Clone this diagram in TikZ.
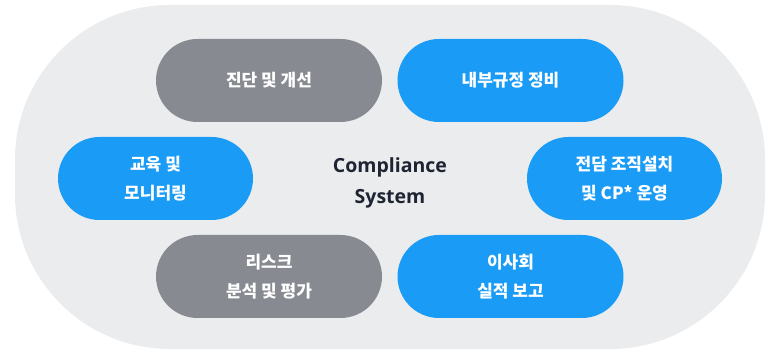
\documentclass[tikz,border=0pt]{standalone}
\usepackage{fontspec}
\setmainfont{Open Sans}
\newfontfamily\kr{Noto Sans CJK KR}
\definecolor{bggray}{HTML}{EBECEE}
\definecolor{pillblue}{HTML}{1A9BF6}
\definecolor{pillgray}{HTML}{878B91}
\definecolor{darktext}{HTML}{1E2432}
\tikzset{
  pill/.style={rectangle, rounded corners=41.5pt, minimum height=83pt, inner sep=0pt,
    text=white, align=center, font=\kr\bfseries\fontsize{17}{29}\selectfont},
  bluepill/.style={pill, fill=pillblue},
  graypill/.style={pill, fill=pillgray},
  widepill/.style={minimum width=226pt},
  narrowpill/.style={minimum width=195pt}
}
\begin{document}
\begin{tikzpicture}[x=1pt,y=-1pt]
\useasboundingbox (0,0) rectangle (766,352);
\fill[white] (0,0) rectangle (766,352);
\node[rectangle, rounded corners=155pt, fill=bggray, minimum width=750pt, minimum height=344pt, inner sep=0pt] (frame) at (390,177) {};
\node[graypill, widepill] (dg) at (269,80.5) {진단 및 개선};
\node[bluepill, widepill] (nb) at (510.5,80.5) {내부규정 정비};
\node[bluepill, narrowpill] (ed) at (155.5,178.5) {교육 및\\모니터링};
\node[bluepill, narrowpill] (jd) at (624.5,178.5) {전담 조직설치\\및 CP* 운영};
\node[graypill, widepill] (rs) at (269,276.5) {리스크\\분석 및 평가};
\node[bluepill, widepill] (is) at (510.5,276.5) {이사회\\실적 보고};
\node[text=darktext, align=center, font=\bfseries\fontsize{19.5}{31}\selectfont] (cs) at (390,183) {Compliance\\System};
\end{tikzpicture}
\end{document}
